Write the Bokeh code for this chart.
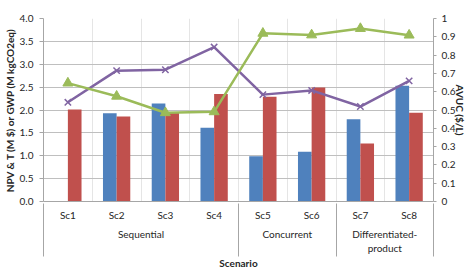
from bokeh.plotting import figure
from bokeh.models import (Range1d, LinearAxis, FixedTicker,
                          NumeralTickFormatter, ColumnDataSource)
from bokeh.transform import dodge
from bokeh.embed import file_html
from bokeh.resources import INLINE

# ---- data -------------------------------------------------------------
scenarios = ["Sc1", "Sc2", "Sc3", "Sc4", "Sc5", "Sc6", "Sc7", "Sc8"]
groups = ["Sequential", "Concurrent", "Differentiated-\nproduct"]
group_sizes = [4, 2, 2]

npv = [0.0, 1.93, 2.14, 1.61, 0.99, 1.09, 1.80, 2.53]        # M $
t_cost = [2.01, 1.86, 1.94, 2.35, 2.29, 2.49, 1.27, 1.94]     # M $
avuc_a = [0.542, 0.715, 0.72, 0.844, 0.584, 0.607, 0.519, 0.659]  # $/L
avuc_b = [0.647, 0.575, 0.485, 0.49, 0.919, 0.91, 0.945, 0.909]   # $/L

left_ticks = [0, 0.5, 1.0, 1.5, 2.0, 2.5, 3.0, 3.5, 4.0]
right_ticks = [0, 0.1, 0.2, 0.3, 0.4, 0.5, 0.6, 0.7, 0.8, 0.9, 1.0]

# ---- styling ------------------------------------------------------------
FONT = "Lato"
TXT = "#262626"
GRID = "#BFBFBF"
AXIS = "#A6A6A6"
BLUE, RED, PURPLE, GREEN = "#4F81BD", "#C0504D", "#8064A2", "#9BBB59"

# each scenario occupies one unit slot on the x axis
centers = [i + 0.5 for i in range(len(scenarios))]
src = ColumnDataSource(dict(x=centers, npv=npv, t=t_cost, a=avuc_a, b=avuc_b))

p = figure(width=472, height=271,
           x_range=Range1d(0, len(scenarios)),
           y_range=Range1d(0, 4),
           output_backend="svg", toolbar_location=None,
           x_axis_location=None,
           min_border_left=36, min_border_right=39,
           min_border_top=18, min_border_bottom=67)
p.outline_line_color = None
p.background_fill_color = "white"
p.border_fill_color = "white"

p.extra_y_ranges = {"avuc": Range1d(0, 1)}

# grid
p.ygrid.ticker = FixedTicker(ticks=left_ticks)
p.ygrid.grid_line_color = GRID
p.ygrid.grid_line_width = 1

def style_labels(ax):
    ax.major_label_text_font = FONT
    ax.major_label_text_font_size = "10px"
    ax.major_label_text_color = TXT
    ax.axis_label_text_font = FONT
    ax.axis_label_text_font_style = "bold"
    ax.axis_label_text_font_size = "10px"
    ax.axis_label_text_color = TXT

# left axis
ya = p.yaxis[0]
ya.ticker = FixedTicker(ticks=left_ticks)
ya.formatter = NumeralTickFormatter(format="0.0")
ya.axis_label = "NPV & T (M $) or GWP (M kgCO2eq)"
style_labels(ya)
ya.axis_label_standoff = 1
ya.major_label_standoff = 6
ya.major_tick_in = 0
ya.major_tick_out = 4
ya.major_tick_line_color = AXIS
ya.minor_tick_line_color = None
ya.axis_line_color = AXIS

# right axis
yr = LinearAxis(y_range_name="avuc", ticker=FixedTicker(ticks=right_ticks),
                axis_label="AVUC ($/L)")
style_labels(yr)
yr.axis_label_standoff = -4
yr.major_label_standoff = 5
yr.major_tick_in = 0
yr.major_tick_out = 3
yr.major_tick_line_color = AXIS
yr.minor_tick_line_color = None
yr.axis_line_color = AXIS
p.add_layout(yr, "right")

# scenario names
xa = LinearAxis(ticker=FixedTicker(ticks=centers, minor_ticks=[]),
                major_label_overrides={c: s for c, s in zip(centers, scenarios)})
style_labels(xa)
xa.major_tick_in = 0
xa.major_tick_out = 0
xa.minor_tick_line_color = None
xa.axis_line_color = AXIS
xa.major_label_standoff = 7
p.add_layout(xa, "below")

# group names
bounds = [0]
for n in group_sizes:
    bounds.append(bounds[-1] + n)
gcenters = [(bounds[i] + bounds[i + 1]) / 2 for i in range(len(groups))]
xg = LinearAxis(ticker=FixedTicker(ticks=gcenters, minor_ticks=[]),
                major_label_overrides={c: g for c, g in zip(gcenters, groups)})
style_labels(xg)
xg.major_tick_in = 0
xg.major_tick_out = 0
xg.minor_tick_line_color = None
xg.axis_line_color = None
xg.major_label_standoff = 4
p.add_layout(xg, "below")

# group separators drawn upward from below the group names, plus axis title
xs = LinearAxis(ticker=FixedTicker(ticks=[], minor_ticks=bounds),
                axis_label="Scenario")
style_labels(xs)
xs.major_tick_in = 0
xs.major_tick_out = 0
xs.minor_tick_in = 53
xs.minor_tick_out = 0
xs.minor_tick_line_color = AXIS
xs.axis_line_color = None
xs.major_label_standoff = 0
xs.axis_label_standoff = 0
p.add_layout(xs, "below")

# bars
p.vbar(x=dodge("x", -0.14), top="npv", width=0.28,
       source=src, fill_color=BLUE, line_color=None)
p.vbar(x=dodge("x", 0.14), top="t", width=0.28,
       source=src, fill_color=RED, line_color=None)

# AVUC lines
p.line(x="x", y="a", source=src, y_range_name="avuc",
       line_color=PURPLE, line_width=2.5)
p.scatter(x="x", y="a", source=src, y_range_name="avuc", marker="x",
          size=9, line_color=PURPLE, line_width=1.5)
p.line(x="x", y="b", source=src, y_range_name="avuc",
       line_color=GREEN, line_width=2.5)
p.scatter(x="x", y="b", source=src, y_range_name="avuc", marker="triangle",
          size=10, fill_color=GREEN, line_color=GREEN)

open("out.html", "w").write(file_html(p, INLINE))
